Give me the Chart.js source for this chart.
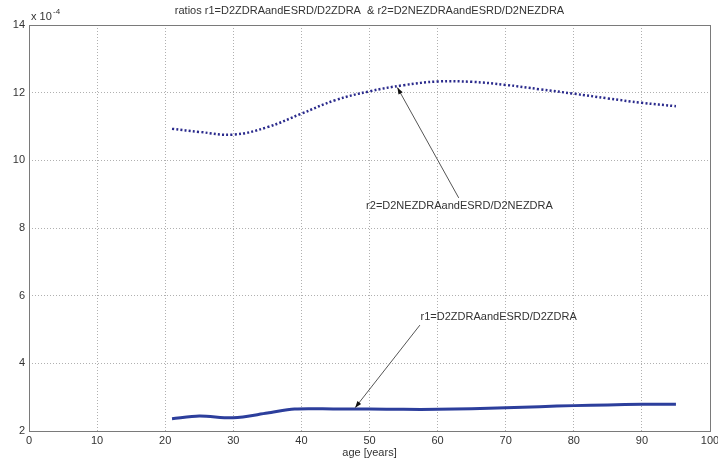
<!DOCTYPE html>
<html>
<head>
<meta charset="utf-8">
<script src="https://cdn.jsdelivr.net/npm/chart.js@4"></script>
<style>
  html, body { margin: 0; padding: 0; background: #fff; }
  #wrap { width: 718px; height: 463px; }
</style>
</head>
<body>
<div id="wrap"><canvas id="myChart" width="718" height="463"></canvas></div>
<script>
// age [years]
var ages = [21, 25, 30, 35, 39, 45, 50, 55, 60, 65, 70, 75, 80, 85, 90, 95];
var agesR2 = [21, 25, 30, 35, 40, 45, 50, 55, 60, 65, 70, 75, 80, 85, 90, 95];
// values in units of 1e-4
var r1 = [2.36, 2.44, 2.39, 2.53, 2.65, 2.65, 2.65, 2.64, 2.64, 2.66, 2.69, 2.72, 2.75, 2.77, 2.79, 2.79];
var r2 = [10.93, 10.84, 10.76, 10.98, 11.38, 11.78, 12.04, 12.22, 12.33, 12.32, 12.23, 12.1, 11.97, 11.83, 11.7, 11.6];
var xTicks = [0, 10, 20, 30, 40, 50, 60, 70, 80, 90, 100];
var yTicks = [2, 4, 6, 8, 10, 12, 14];

var FONT = '"Liberation Sans", Arial, sans-serif';

var notes = [
    { text: 'r2=D2NEZDRAandESRD/D2NEZDRA', tx: 49.5, ty: 8.64, x0: 63.1, y0: 8.89, x1: 54.1, y1: 12.15 },
    { text: 'r1=D2ZDRAandESRD/D2ZDRA', tx: 57.5, ty: 5.36, x0: 57.4, y0: 5.13, x1: 47.9, y1: 2.69 }
];

var matlabLook = {
    id: 'matlabLook',
    afterDraw: function(chart) {
        var c = chart.ctx, a = chart.chartArea;
        var xs = chart.scales.x, ys = chart.scales.y;
        c.save();
        // box
        c.strokeStyle = '#7a7a7a';
        c.lineWidth = 1;
        c.strokeRect(a.left + 0.5, a.top + 0.5, a.right - a.left, a.bottom - a.top);
        // title
        c.fillStyle = '#333';
        c.font = '11px ' + FONT;
        c.textAlign = 'center';
        c.textBaseline = 'middle';
        c.fillText('ratios r1=D2ZDRAandESRD/D2ZDRA  & r2=D2NEZDRAandESRD/D2NEZDRA', (a.left + a.right) / 2, 11);
        // exponent
        c.textAlign = 'left';
        c.fillText('x 10', a.left + 2, 17);
        c.font = '8px ' + FONT;
        c.fillText('-4', a.left + 24, 12);
        // x label
        c.font = '11px ' + FONT;
        c.textAlign = 'center';
        c.fillText('age [years]', (a.left + a.right) / 2, 453);
        // annotations
        notes.forEach(function(n) {
            var px0 = xs.getPixelForValue(n.x0), py0 = ys.getPixelForValue(n.y0);
            var px1 = xs.getPixelForValue(n.x1), py1 = ys.getPixelForValue(n.y1);
            c.strokeStyle = '#555';
            c.lineWidth = 1;
            c.beginPath();
            c.moveTo(px0, py0);
            c.lineTo(px1, py1);
            c.stroke();
            var ang = Math.atan2(py1 - py0, px1 - px0);
            c.fillStyle = '#111';
            c.beginPath();
            c.moveTo(px1, py1);
            c.lineTo(px1 - 7 * Math.cos(ang - 0.35), py1 - 7 * Math.sin(ang - 0.35));
            c.lineTo(px1 - 7 * Math.cos(ang + 0.35), py1 - 7 * Math.sin(ang + 0.35));
            c.closePath();
            c.fill();
            c.fillStyle = '#333';
            c.font = '11px ' + FONT;
            c.textAlign = 'left';
            c.textBaseline = 'middle';
            c.fillText(n.text, xs.getPixelForValue(n.tx), ys.getPixelForValue(n.ty));
        });
        c.restore();
    }
};

var ctx = document.getElementById('myChart').getContext('2d');
var myChart = new Chart(ctx, {
    type: 'line',
    data: {
        datasets: [{
            label: 'r1',
            data: ages.map(function(a, i) { return { x: a, y: r1[i] }; }),
            borderColor: '#2c3e9c',
            borderWidth: 3,
            pointRadius: 0,
            tension: 0.3,
            fill: false
        }, {
            label: 'r2',
            data: agesR2.map(function(a, i) { return { x: a, y: r2[i] }; }),
            borderColor: '#2a2a8c',
            borderWidth: 2.5,
            borderDash: [2, 2.2],
            pointRadius: 0,
            tension: 0.4,
            fill: false
        }]
    },
    options: {
        responsive: false,
        animation: false,
        layout: { padding: { top: 25, right: 8, left: 0, bottom: 0 } },
        plugins: {
            legend: { display: false },
            title: { display: false },
            tooltip: { enabled: false }
        },
        scales: {
            x: {
                type: 'linear',
                min: 0, max: 100,
                afterFit: function(s) { s.height = 32; s.paddingRight = 0; s.paddingLeft = 0; },
                afterBuildTicks: function(s) { s.ticks = xTicks.map(function(v) { return { value: v }; }); },
                grid: { color: '#b0b0b0', drawTicks: false },
                border: { display: false, dash: [1, 2] },
                ticks: { color: '#333', font: { family: FONT, size: 11 }, padding: 3, maxRotation: 0 }
            },
            y: {
                min: 2, max: 14,
                afterFit: function(s) { s.width = 29; s.paddingTop = 0; s.paddingBottom = 0; },
                afterBuildTicks: function(s) { s.ticks = yTicks.map(function(v) { return { value: v }; }); },
                grid: { color: '#b0b0b0', drawTicks: false },
                border: { display: false, dash: [1, 2] },
                ticks: { color: '#333', font: { family: FONT, size: 11 }, padding: 4 }
            }
        }
    },
    plugins: [matlabLook]
});
</script>
</body>
</html>
